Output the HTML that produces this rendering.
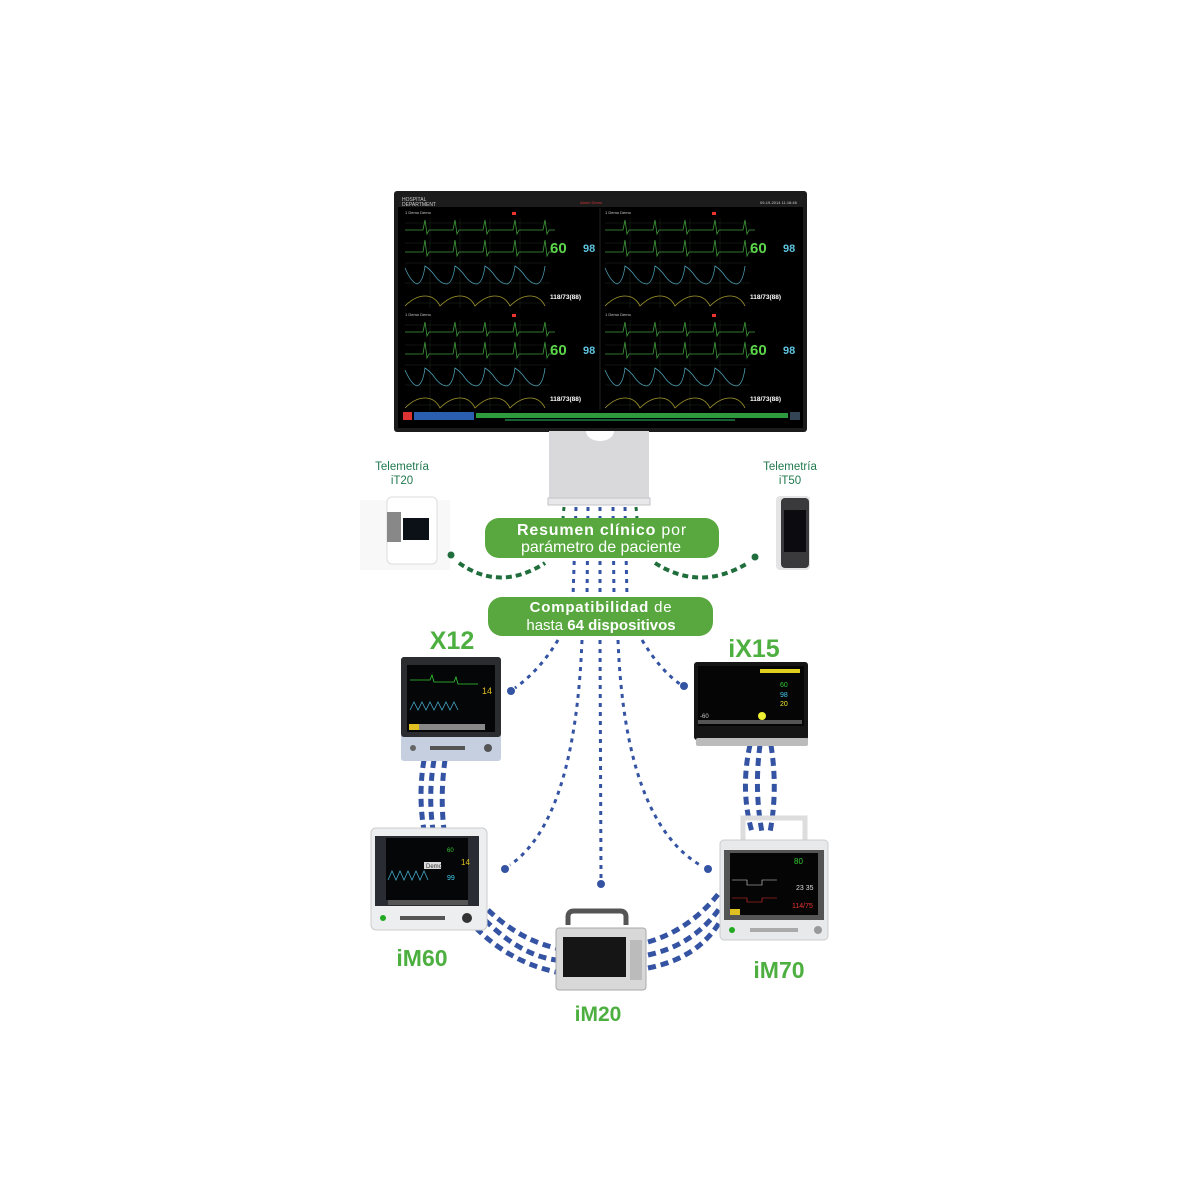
<!DOCTYPE html>
<html><head><meta charset="utf-8"><style>
html,body{margin:0;padding:0;background:#fff;}
svg{display:block;font-family:"Liberation Sans",sans-serif;}
</style></head><body>
<svg width="1200" height="1200" viewBox="0 0 1200 1200" xmlns="http://www.w3.org/2000/svg">
<defs>
<g id="quad">
  <g stroke="#1d2a1d" stroke-width="0.5">
    <line x1="5" y1="15" x2="150" y2="15"/><line x1="5" y1="35" x2="150" y2="35"/><line x1="5" y1="55" x2="150" y2="55"/><line x1="5" y1="75" x2="150" y2="75"/><line x1="5" y1="95" x2="150" y2="95"/>
    <line x1="30" y1="10" x2="30" y2="100"/><line x1="60" y1="10" x2="60" y2="100"/><line x1="90" y1="10" x2="90" y2="100"/><line x1="120" y1="10" x2="120" y2="100"/>
  </g>
  <text x="5" y="6" font-size="4" fill="#ccc">1 Demo Demo</text>
  <path d="M5,22 h18 l2,-10 l2,14 l2,-4 h6 h18 l2,-10 l2,14 l2,-4 h6 h18 l2,-10 l2,14 l2,-4 h6 h18 l2,-10 l2,14 l2,-4 h6 h18 l2,-10 l2,14 l2,-4 h6" fill="none" stroke="#3f9a3a" stroke-width="0.8"/>
  <path d="M5,44 h18 l2,-12 l2,16 l2,-4 h6 h18 l2,-12 l2,16 l2,-4 h6 h18 l2,-12 l2,16 l2,-4 h6 h18 l2,-12 l2,16 l2,-4 h6 h18 l2,-12 l2,16 l2,-4 h6" fill="none" stroke="#3f9a3a" stroke-width="0.8"/>
  <path d="M5,60 q6,14 12,16 q6,-2 8,-18 q6,4 10,10 q6,8 12,8 q6,-2 8,-18 q6,4 10,10 q6,8 12,8 q6,-2 8,-18 q6,4 10,10 q6,8 12,8 q6,-2 8,-18 q6,4 10,10 q6,8 12,8 q6,-2 8,-18" fill="none" stroke="#4a9bb0" stroke-width="0.8"/>
  <path d="M5,98 q10,-10 20,-10 q10,0 15,10 q10,-10 20,-10 q10,0 15,10 q10,-10 20,-10 q10,0 15,10 q10,-10 20,-10 q10,0 15,10" fill="none" stroke="#a59a2c" stroke-width="0.8"/>
  <text x="150" y="45" font-size="15" font-weight="bold" fill="#5cd64a">60</text>
  <text x="183" y="44" font-size="11" font-weight="bold" fill="#5fc4e0">98</text>
  <rect x="112" y="4" width="4" height="3" fill="#e33"/>
  <text x="150" y="91" font-size="6.5" font-weight="bold" fill="#fff">118/73(88)</text>
</g>
</defs>

<rect x="394" y="191" width="413" height="241" rx="3" fill="#1b1b1b"/>
<rect x="398" y="195" width="405" height="233" fill="#000"/>
<rect x="398" y="195" width="405" height="12" fill="#1c1c1c"/>
<text x="402" y="201" font-size="5" fill="#ccc">HOSPITAL</text>
<text x="402" y="206" font-size="5" fill="#ccc">DEPARTMENT</text>
<text x="580" y="204" font-size="4" fill="#c33">Alarm Demo</text>
<text x="760" y="204" font-size="4" fill="#ccc">09-19-2014 11:16:46</text>
<use href="#quad" x="400" y="208"/>
<use href="#quad" x="600" y="208"/>
<use href="#quad" x="400" y="310"/>
<use href="#quad" x="600" y="310"/>
<line x1="600" y1="208" x2="600" y2="410" stroke="#222" stroke-width="1"/>
<rect x="403" y="412" width="9" height="8" fill="#d33"/>
<rect x="414" y="412" width="60" height="8" fill="#2a5fb0"/>
<rect x="476" y="413" width="312" height="5" fill="#2e9a3e"/>
<line x1="505" y1="420" x2="735" y2="420" stroke="#2ec06e" stroke-width="1"/>
<rect x="790" y="412" width="10" height="8" fill="#345"/>
<rect x="549" y="431" width="100" height="68" fill="#d9d9db"/>
<path d="M586,431 a14,10 0 0 0 28,0 z" fill="#fff"/>
<rect x="548" y="498" width="102" height="7" fill="#e8e8ea" stroke="#c5c5c8" stroke-width="1"/>

<g font-size="11.5" fill="#217a4e" text-anchor="middle">
<text x="402" y="470">Telemetría</text><text x="402" y="484">iT20</text>
<text x="790" y="470">Telemetría</text><text x="790" y="484">iT50</text>
</g>
<rect x="360" y="500" width="90" height="70" fill="#f8f8f8"/>
<rect x="387" y="497" width="50" height="67" rx="5" fill="#fff" stroke="#ddd"/>
<rect x="387" y="512" width="14" height="30" fill="#888"/>
<rect x="403" y="518" width="26" height="22" fill="#0c1118"/>
<rect x="776" y="496" width="34" height="74" rx="4" fill="#e4e4e4"/>
<rect x="781" y="498" width="28" height="70" rx="4" fill="#3a3a3d"/>
<rect x="784" y="510" width="22" height="42" fill="#0b0b10"/>

<g fill="none" stroke="#1f6e3c" stroke-width="4" stroke-dasharray="6,4">
<path d="M459,563 Q500,592 545,563"/>
<path d="M655,563 Q700,592 748,563"/>
</g>
<circle cx="451" cy="555" r="3.5" fill="#1f6e3c"/>
<circle cx="755" cy="557" r="3.5" fill="#1f6e3c"/>
<g stroke="#1f6e3c" stroke-width="3" stroke-dasharray="4,5">
<line x1="564" y1="507" x2="563" y2="518"/><line x1="636" y1="507" x2="637" y2="518"/>
</g>

<g fill="none" stroke="#3453a3" stroke-width="3" stroke-dasharray="4,5">
<line x1="576" y1="507" x2="573" y2="597"/>
<line x1="588" y1="507" x2="587" y2="597"/>
<line x1="600" y1="507" x2="600" y2="597"/>
<line x1="613" y1="507" x2="614" y2="597"/>
<line x1="625" y1="507" x2="627" y2="597"/>
<path d="M558,640 Q540,670 515,688"/>
<path d="M642,640 Q660,670 680,684"/>
<path d="M582,640 Q575,820 510,865"/>
<path d="M600,640 L601,878"/>
<path d="M618,640 Q625,820 700,865"/>
</g>
<g fill="#3453a3">
<circle cx="511" cy="691" r="4"/><circle cx="684" cy="686" r="4"/>
<circle cx="505" cy="869" r="4"/><circle cx="601" cy="884" r="4"/><circle cx="708" cy="869" r="4"/>
</g>

<g fill="none" stroke="#3453a3" stroke-width="5" stroke-dasharray="8,5">
<path d="M424,760 Q418,795 424,830"/>
<path d="M434,760 Q428,795 433,830"/>
<path d="M445,760 Q440,795 444,830"/>
<path d="M750,745 Q740,790 752,832"/>
<path d="M760,745 Q754,790 762,832"/>
<path d="M771,745 Q778,790 770,832"/>
<path d="M488,910 Q520,940 556,948"/>
<path d="M485,920 Q520,955 556,960"/>
<path d="M476,928 Q510,962 556,972"/>
<path d="M648,942 Q690,930 720,892"/>
<path d="M648,955 Q695,945 722,905"/>
<path d="M648,968 Q700,958 722,918"/>
</g>

<rect x="485" y="518" width="234" height="40" rx="14" fill="#58a83f"/>
<text x="602" y="535" font-size="16" fill="#fff" text-anchor="middle" letter-spacing="0.8"><tspan font-weight="bold">Resumen clínico</tspan> por</text>
<text x="601" y="552" font-size="16" fill="#fff" text-anchor="middle">parámetro de paciente</text>
<rect x="488" y="597" width="225" height="39" rx="14" fill="#58a83f"/>
<text x="601" y="612" font-size="15" fill="#fff" text-anchor="middle" letter-spacing="0.8"><tspan font-weight="bold">Compatibilidad</tspan> de</text>
<text x="601" y="630" font-size="15" fill="#fff" text-anchor="middle">hasta <tspan font-weight="bold">64 dispositivos</tspan></text>

<g font-weight="bold" fill="#4caf3f" text-anchor="middle">
<text x="452" y="649" font-size="25">X12</text>
<text x="754" y="657" font-size="25">iX15</text>
<text x="422" y="966" font-size="23">iM60</text>
<text x="779" y="978" font-size="23">iM70</text>
<text x="598" y="1021" font-size="21">iM20</text>
</g>

<rect x="401" y="657" width="100" height="104" rx="3" fill="#c5cfe0"/>
<rect x="401" y="657" width="100" height="80" rx="3" fill="#2a2c30"/>
<rect x="407" y="665" width="88" height="67" fill="#050607"/>
<rect x="409" y="724" width="76" height="6" fill="#888"/>
<rect x="409" y="724" width="10" height="6" fill="#e0c020"/>
<text x="482" y="694" font-size="9" fill="#e0c020">14</text>
<path d="M410,680 h20 l2,-5 l2,7 h20 l2,-5 l2,7 h20" fill="none" stroke="#3c3" stroke-width="0.8"/>
<path d="M410,710 l4,-8 l4,8 l4,-8 l4,8 l4,-8 l4,8 l4,-8 l4,8 l4,-8 l4,8 l4,-8 l4,8" fill="none" stroke="#4ac" stroke-width="0.8"/>
<circle cx="413" cy="748" r="3" fill="#666"/><circle cx="488" cy="748" r="4" fill="#555"/>
<rect x="430" y="746" width="35" height="4" fill="#555"/>
<rect x="694" y="662" width="114" height="78" rx="3" fill="#151515"/>
<rect x="698" y="666" width="106" height="60" fill="#050505"/>
<rect x="760" y="669" width="40" height="4" fill="#e0d020"/>
<text x="780" y="687" font-size="7" fill="#3c3">60</text>
<text x="780" y="697" font-size="7" fill="#4ce">98</text>
<text x="780" y="706" font-size="7" fill="#ee3">20</text>
<text x="700" y="718" font-size="6" fill="#ccc">-60</text>
<circle cx="762" cy="716" r="4" fill="#ee3"/>
<rect x="698" y="720" width="104" height="4" fill="#555"/>
<rect x="696" y="738" width="112" height="8" rx="2" fill="#bbb"/>
<rect x="371" y="828" width="116" height="102" rx="5" fill="#eceef0" stroke="#ccc"/>
<rect x="375" y="836" width="104" height="70" fill="#2a2c33"/>
<rect x="386" y="838" width="82" height="62" fill="#050607"/>
<rect x="424" y="862" width="17" height="7" fill="#ddd"/>
<text x="426" y="868" font-size="6" fill="#333">Demo</text>
<text x="447" y="852" font-size="6" fill="#3c3">60</text>
<text x="461" y="865" font-size="8" fill="#e0c020">14</text>
<text x="447" y="880" font-size="7" fill="#4ce">99</text>
<path d="M388,880 l4,-9 l4,9 l4,-9 l4,9 l4,-9 l4,9 l4,-9 l4,9 l4,-9 l4,9" fill="none" stroke="#4ac" stroke-width="0.8"/>
<rect x="388" y="900" width="80" height="5" fill="#555"/>
<circle cx="383" cy="918" r="3" fill="#2a2"/>
<rect x="400" y="916" width="45" height="4" fill="#555"/>
<circle cx="467" cy="918" r="5" fill="#333"/>
<path d="M568,925 v-8 q0,-6 6,-6 h46 q6,0 6,6 v8" fill="none" stroke="#555" stroke-width="5"/>
<rect x="556" y="928" width="90" height="62" rx="3" fill="#d8d8d8" stroke="#aaa"/>
<rect x="563" y="937" width="63" height="40" fill="#151515"/>
<rect x="630" y="940" width="12" height="40" fill="#bbb"/>
<path d="M743,840 v-22 h62 v22" fill="none" stroke="#ddd" stroke-width="5"/>
<rect x="720" y="840" width="108" height="100" rx="4" fill="#e8e9eb" stroke="#ccc"/>
<rect x="724" y="850" width="100" height="70" fill="#555"/>
<rect x="730" y="853" width="88" height="62" fill="#050505"/>
<text x="794" y="864" font-size="8" fill="#3c3">80</text>
<text x="796" y="890" font-size="7" fill="#ddd">23 35</text>
<text x="792" y="908" font-size="7" fill="#e33">114/75</text>
<path d="M732,880 h15 v5 h15 v-5 h15" fill="none" stroke="#ddd" stroke-width="0.6"/>
<path d="M732,898 h15 v4 h15 v-4 h15" fill="none" stroke="#e33" stroke-width="0.6"/>
<rect x="730" y="909" width="10" height="6" fill="#e0c020"/>
<circle cx="732" cy="930" r="3" fill="#2a2"/>
<rect x="750" y="928" width="48" height="4" fill="#aaa"/>
<circle cx="818" cy="930" r="4" fill="#999"/>
</svg>
</body></html>
